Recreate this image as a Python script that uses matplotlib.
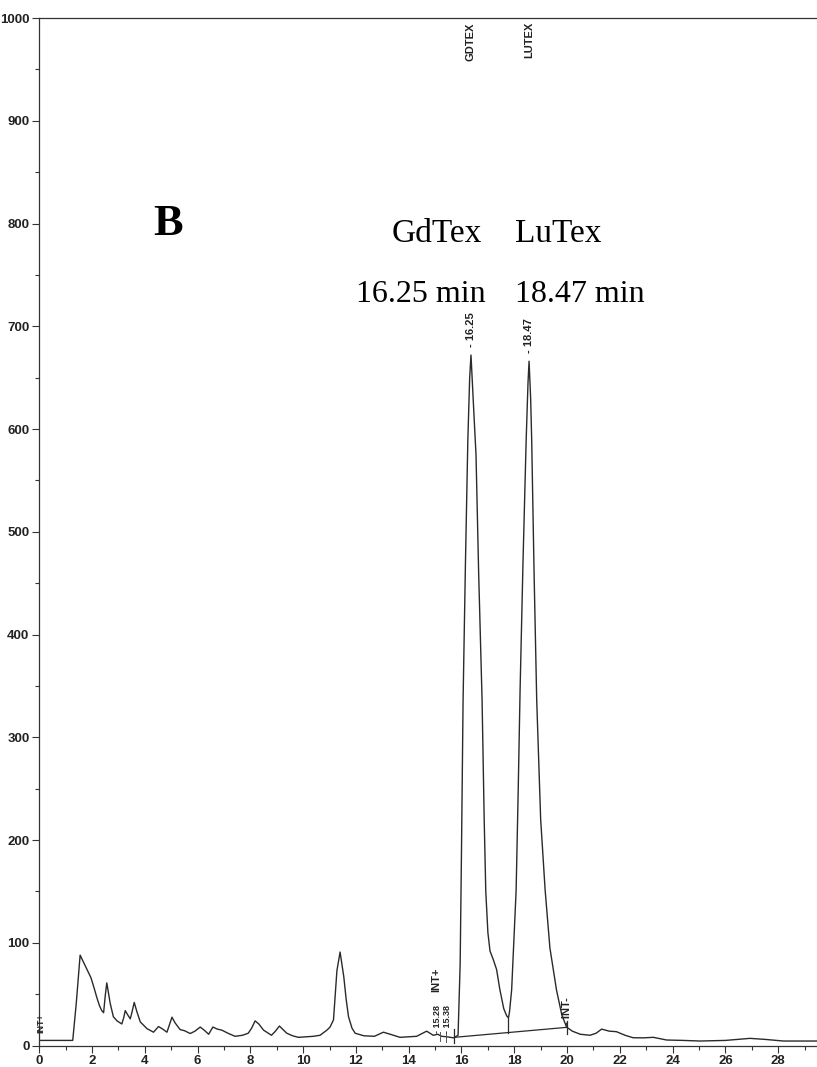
import numpy as np
import matplotlib
matplotlib.use('Agg')
from matplotlib import pyplot as plt
from matplotlib.ticker import MultipleLocator

# retention time (min) and detector signal
time = [0.0, 1.27, 1.4, 1.55, 1.7, 1.83, 1.96, 2.08, 2.18, 2.28, 2.37, 2.44, 2.5, 2.56, 2.62, 2.69, 2.81,
        2.95, 3.13, 3.2, 3.26, 3.35, 3.45, 3.52, 3.6, 3.7, 3.83, 4.08, 4.33, 4.52, 4.68, 4.84, 5.03,
        5.15, 5.34, 5.5, 5.72, 5.9, 6.1, 6.25, 6.42, 6.58, 6.75, 6.92, 7.15, 7.42, 7.7, 7.92, 8.05,
        8.18, 8.32, 8.5, 8.8, 8.95, 9.1, 9.38, 9.6, 9.82, 10.1, 10.39, 10.64, 10.9, 11.02, 11.15,
        11.28, 11.4, 11.54, 11.63, 11.72, 11.85, 11.97, 12.3, 12.7, 13.04, 13.3, 13.67, 14.0, 14.3,
        14.68, 14.93, 15.1, 15.25, 15.45, 15.7,
        15.87, 15.95, 16.0, 16.06, 16.15, 16.24, 16.31, 16.36, 16.42, 16.48, 16.55, 16.65, 16.78,
        16.86, 16.92, 17.0, 17.08, 17.2, 17.33, 17.45, 17.6, 17.71, 17.78,
        17.82, 17.9, 17.98, 18.07, 18.15, 18.22, 18.33, 18.45, 18.52, 18.56, 18.62, 18.66, 18.75,
        18.85, 19.0, 19.17, 19.35, 19.6, 19.8, 19.98, 20.2, 20.5, 20.87, 21.1, 21.31, 21.6, 21.87,
        22.2, 22.5, 22.9, 23.27, 23.77, 24.4, 25.04, 26.0, 26.93, 27.5, 28.2, 29.47]
signal = [5, 5, 40, 88, 80, 73, 66, 56, 47, 39, 34, 32, 48, 61, 52, 41, 28,
          24, 21, 27, 34, 30, 26, 33, 42, 33, 23, 16.5, 13, 18.5, 16, 13, 27.6,
          22, 15.5, 14.5, 11.7, 14, 18, 15, 11, 18, 16, 15, 12, 9, 10, 12, 17,
          24, 21, 15, 10, 14, 19, 12, 9.5, 8, 8.5, 9, 10, 15, 18, 25,
          73, 91, 67, 45, 28, 17, 12, 9.5, 9, 13, 11, 8, 8.5, 9,
          14, 10, 11, 9, 8.5, 7.5,
          10, 80, 190, 336, 470, 589, 650, 672, 640, 610, 575, 460, 336,
          220, 150, 110, 92, 84, 74, 55, 36, 29, 27,
          33, 54, 100, 151, 250, 346, 470, 589, 645, 666, 630, 589, 460,
          336, 220, 151, 95, 54, 30, 18, 14, 11, 10, 12, 16, 14, 13.5,
          10, 7.6, 7.5, 8, 5.4, 5, 4.4, 5, 7, 6, 4.4, 4.4]

# integration baseline and peak marks
base_t = [15.73, 19.98]
base_y = [8, 17.7]
drop_t = 17.78
drop_y = [12.7, 27]
peak_t = [16.36, 18.56]
peak_y = [672, 666]
peak_lbl = ['16.25', '18.47']
peak_names = ['GDTEX', 'LUTEX']

fig = plt.figure(figsize=(8.17, 10.67), dpi=100)
ax = fig.add_axes([0.048, 0.0201, 0.952, 0.963])
ax.plot(time, signal, color='#2a2a2a', lw=1.0)
ax.plot(base_t, base_y, color='#2a2a2a', lw=0.9)
ax.plot([drop_t, drop_t], drop_y, color='#2a2a2a', lw=0.9)
ax.plot([base_t[0]] * 2, [2, 16], color='#2a2a2a', lw=0.9)
ax.plot([base_t[1]] * 2, [11, 24], color='#2a2a2a', lw=0.9)
ax.plot([15.2, 15.2], [4, 13], color='#555555', lw=0.7)
ax.plot([15.4, 15.4], [3, 12], color='#555555', lw=0.7)

tfont = dict(family='Liberation Sans', weight='bold', color='#222222')
for t, y, lb, nm in zip(peak_t, peak_y, peak_lbl, peak_names):
    ax.text(t, y + 8, '- ' + lb, rotation=90, ha='center', va='bottom', fontsize=8, **tfont)
    ax.text(t, 996, nm, rotation=90, ha='center', va='top', fontsize=8, **tfont)
ax.text(15.05, 52, 'INT+', rotation=90, ha='center', va='bottom', fontsize=8, **tfont)
ax.text(15.08, 12, '- 15.28', rotation=90, ha='center', va='bottom', fontsize=6.5, **tfont)
ax.text(15.47, 12, '- 15.38', rotation=90, ha='center', va='bottom', fontsize=6.5, **tfont)
ax.text(19.98, 20, '- INT-', rotation=90, ha='center', va='bottom', fontsize=8, **tfont)
ax.text(0.08, 12, 'INT+', rotation=90, ha='center', va='bottom', fontsize=6.5, **tfont)

serif = dict(family='Liberation Serif', color='black')
ax.text(4.9, 800, 'B', fontsize=32, weight='bold', ha='center', va='center', **serif)
ax.text(15.08, 790, 'GdTex', fontsize=24, ha='center', va='center', **serif)
ax.text(19.66, 790, 'LuTex', fontsize=24, ha='center', va='center', **serif)
ax.text(14.47, 731, '16.25 min', fontsize=23, ha='center', va='center', **serif)
ax.text(20.5, 731, '18.47 min', fontsize=23, ha='center', va='center', **serif)

ax.set_xlim(0, 29.47)
ax.set_ylim(0, 1000)
ax.xaxis.set_major_locator(MultipleLocator(2))
ax.xaxis.set_minor_locator(MultipleLocator(1))
ax.yaxis.set_major_locator(MultipleLocator(100))
ax.yaxis.set_minor_locator(MultipleLocator(50))
ax.tick_params(which='both', direction='out', color='#333333', width=0.8)
ax.tick_params(which='major', length=5, labelsize=9.5, pad=2)
ax.tick_params(which='minor', length=3)
for lab in ax.get_xticklabels() + ax.get_yticklabels():
    lab.set_fontfamily('Liberation Sans')
    lab.set_fontweight('bold')
    lab.set_color('#222222')
ax.spines['right'].set_visible(False)
for s in ['left', 'bottom', 'top']:
    ax.spines[s].set_color('#333333')
    ax.spines[s].set_linewidth(0.9)

fig.savefig('out.png', dpi=100)
